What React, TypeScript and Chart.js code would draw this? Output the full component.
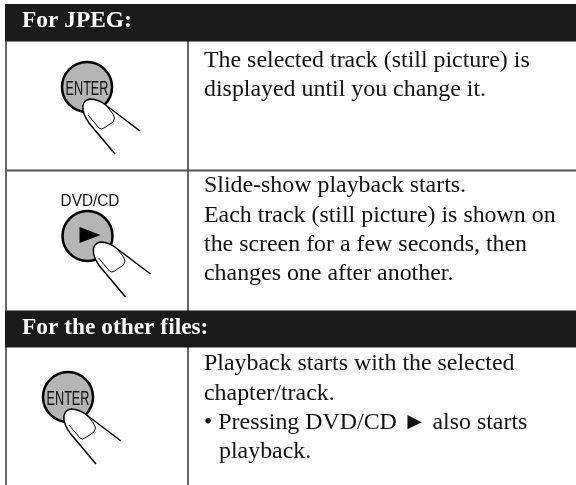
import React, { useEffect, useRef } from "react";
import { Chart, registerables } from "chart.js";

Chart.register(...registerables);

const SERIF = '"Liberation Serif", "Times New Roman", serif';
const SANS = '"Liberation Sans", Arial, sans-serif';

const frameLeft = 6;
const frameRight = 576;
const frameTop = 4;
const frameBottom = 485;
const dividerX = 188;
const rowRule = 170.5;
const headerBands = [
  { label: "For JPEG:", top: 4, bottom: 41.5, baseline: 27 },
  { label: "For the other files:", top: 310.5, bottom: 347.5, baseline: 334 },
];
const bodyLines = [
  { text: "The selected track (still picture) is", x: 204, y: 67 },
  { text: "displayed until you change it.", x: 204, y: 96 },
  { text: "Slide-show playback starts.", x: 204, y: 192 },
  { text: "Each track (still picture) is shown on", x: 204, y: 222 },
  { text: "the screen for a few seconds, then", x: 204, y: 251 },
  { text: "changes one after another.", x: 204, y: 280 },
  { text: "Playback starts with the selected", x: 204, y: 370 },
  { text: "chapter/track.", x: 204, y: 400 },
  { text: "• Pressing DVD/CD ► also starts", x: 204, y: 429 },
  { text: "playback.", x: 219, y: 458 },
];
const buttons = [
  { x: 87, y: 87, text: "ENTER", fingerX: 0, fingerY: 0 },
  { x: 87.5, y: 236, text: "", fingerX: 10, fingerY: -6 },
  { x: 68, y: 397, text: "ENTER", fingerX: 0, fingerY: 0 },
];
const buttonCaption = { text: "DVD/CD", x: 90, y: 206 };

const App = () => {
  const ref = useRef<HTMLCanvasElement>(null);
  useEffect(() => {
    document.body.style.margin = "0";
    const rule = (x1: number, y1: number, x2: number, y2: number, color: string, w: number) => ({
      type: "scatter" as const,
      data: [{ x: x1, y: y1 }, { x: x2, y: y2 }],
      showLine: true,
      borderColor: color,
      borderWidth: w,
      pointRadius: 0,
    });
    const overlay = {
      id: "overlay",
      afterDatasetsDraw(chart: any) {
        const { ctx, scales } = chart;
        const X = (v: number) => scales.x.getPixelForValue(v);
        const Y = (v: number) => scales.y.getPixelForValue(v);
        ctx.save();
        ctx.textBaseline = "alphabetic";
        ctx.textAlign = "left";
        ctx.fillStyle = "#fff";
        ctx.font = `bold 23.4px ${SERIF}`;
        headerBands.forEach((b) => ctx.fillText(b.label, X(22), Y(b.baseline)));
        ctx.fillStyle = "#111";
        ctx.font = `23.9px ${SERIF}`;
        bodyLines.forEach((l) => ctx.fillText(l.text, X(l.x), Y(l.y)));
        buttons.forEach((b) => {
          const cx = X(b.x), cy = Y(b.y);
          if (b.text) {
            ctx.fillStyle = "#111";
            ctx.textAlign = "center";
            ctx.font = `19.5px ${SANS}`;
            ctx.save();
            ctx.translate(cx, cy);
            ctx.scale(0.65, 1);
            ctx.fillText(b.text, 0, 8);
            ctx.restore();
          } else {
            ctx.fillStyle = "#000";
            ctx.beginPath();
            ctx.moveTo(cx - 8, cy - 9);
            ctx.lineTo(cx + 13, cy - 1);
            ctx.lineTo(cx - 8, cy + 7);
            ctx.closePath();
            ctx.fill();
          }
          const fx = cx + b.fingerX, fy = cy + b.fingerY;
          const outline = () => {
            ctx.moveTo(fx + 53, fy + 44);
            ctx.lineTo(fx + 20, fy + 19);
            ctx.bezierCurveTo(fx + 14, fy + 14, fx + 8, fy + 12, fx + 3, fy + 12);
            ctx.bezierCurveTo(fx - 3, fy + 13, fx - 5, fy + 18, fx - 4, fy + 23);
            ctx.bezierCurveTo(fx - 3, fy + 29, fx + 0, fy + 33, fx + 2, fy + 36);
            ctx.lineTo(fx + 28, fy + 67);
          };
          ctx.strokeStyle = "#000";
          ctx.fillStyle = "#fff";
          ctx.lineWidth = 1.5;
          ctx.beginPath();
          ctx.moveTo(fx + 24, fy + 22);
          ctx.lineTo(fx + 20, fy + 19);
          ctx.bezierCurveTo(fx + 14, fy + 14, fx + 8, fy + 12, fx + 3, fy + 12);
          ctx.bezierCurveTo(fx - 3, fy + 13, fx - 5, fy + 18, fx - 4, fy + 23);
          ctx.bezierCurveTo(fx - 3, fy + 29, fx + 0, fy + 33, fx + 2, fy + 36);
          ctx.lineTo(fx + 12, fy + 47);
          ctx.lineTo(fx + 30, fy + 35);
          ctx.closePath();
          ctx.fill();
          ctx.beginPath();
          outline();
          ctx.stroke();
          ctx.lineWidth = 1;
          ctx.beginPath();
          ctx.moveTo(fx + 1, fy + 28);
          ctx.lineTo(fx + 12, fy + 41);
          ctx.quadraticCurveTo(fx + 14, fy + 43, fx + 17, fy + 41);
          ctx.lineTo(fx + 26, fy + 35);
          ctx.quadraticCurveTo(fx + 29, fy + 31, fx + 26, fy + 27);
          ctx.lineTo(fx + 19, fy + 18);
          ctx.stroke();
        });
        ctx.fillStyle = "#111";
        ctx.textAlign = "center";
        ctx.font = `16px ${SANS}`;
        ctx.save();
        ctx.translate(X(buttonCaption.x), Y(buttonCaption.y));
        ctx.scale(0.96, 1);
        ctx.fillText(buttonCaption.text, 0, 0);
        ctx.restore();
        ctx.restore();
      },
    };
    const whiteBg = {
      id: "whiteBg",
      beforeDraw(chart: any) {
        chart.ctx.fillStyle = "#fff";
        chart.ctx.fillRect(0, 0, chart.width, chart.height);
      },
    };
    const chart = new Chart(ref.current!, {
      type: "scatter",
      data: {
        datasets: [
          ...headerBands.map((b) =>
            rule(frameLeft - 1, (b.top + b.bottom) / 2, frameRight, (b.top + b.bottom) / 2, "#1a1a1a", b.bottom - b.top)
          ),
          rule(frameLeft, frameTop, frameLeft, frameBottom, "#555", 1.8),
          rule(dividerX, frameTop, dividerX, frameBottom, "#555", 1.8),
          rule(frameLeft, rowRule, frameRight, rowRule, "#555", 1.8),
          {
            type: "scatter" as const,
            data: buttons.map((b) => ({ x: b.x, y: b.y })),
            pointRadius: 25,
            backgroundColor: "#b5b5b5",
            borderColor: "#000",
            borderWidth: 2.5,
          },
        ] as any,
      },
      options: {
        animation: false,
        responsive: false,
        events: [],
        layout: { padding: 0, autoPadding: false },
        scales: {
          x: { type: "linear", display: false, min: 0, max: 576 },
          y: { type: "linear", display: false, min: 0, max: 485, reverse: true },
        },
        plugins: { legend: { display: false }, tooltip: { enabled: false }, title: { display: false } },
      },
      plugins: [whiteBg, overlay],
    } as any);
    return () => chart.destroy();
  }, []);
  return <canvas ref={ref} width={576} height={485} style={{ display: "block" }} />;
};

export default App;
